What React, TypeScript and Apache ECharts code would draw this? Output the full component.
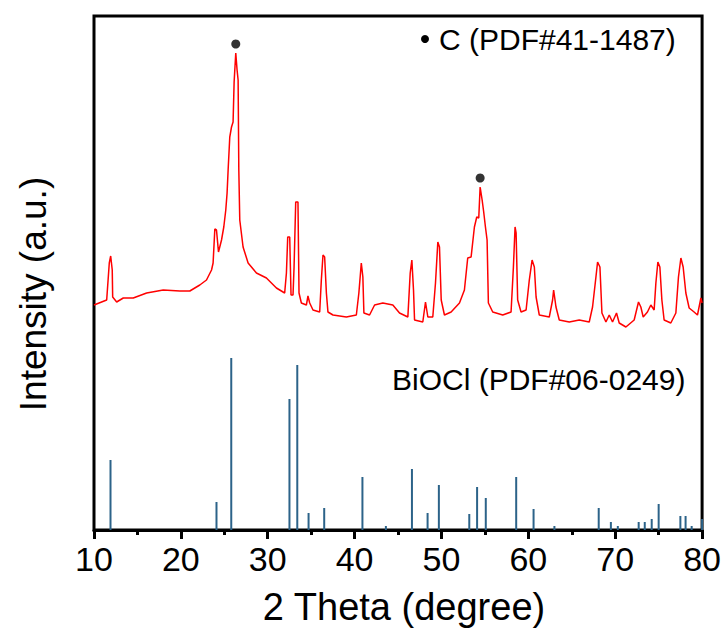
import React, { useEffect, useRef } from "react";
import * as echarts from "echarts";

// Measured XRD pattern (2θ in degrees, intensity in arbitrary units)
const xrdTheta: number[] = [
  10.0, 11.46, 11.76, 11.92, 12.1, 12.15, 12.61, 13.37, 14.52, 16.06, 17.97, 19.88, 21.03, 22.18, 22.95,
  23.53, 23.71, 23.91, 24.1, 24.33, 24.68, 24.94, 25.17, 25.32, 25.44, 25.63, 25.83, 26.01, 26.13, 26.32,
  26.47, 26.59, 26.67, 26.78, 27.16, 27.74, 28.7, 29.85, 31.0, 31.95, 32.15, 32.3, 32.53, 32.68, 32.91,
  33.03, 33.22, 33.48, 33.6, 33.87, 34.45, 34.63, 34.83, 35.21, 35.98, 36.17, 36.36, 36.55, 36.75, 36.93,
  37.51, 39.05, 40.2, 40.49, 40.77, 40.95, 41.07, 41.72, 42.3, 43.25, 44.4, 45.17, 46.13, 46.4, 46.59,
  46.78, 46.9, 47.85, 48.16, 48.43, 49.0, 49.31, 49.58, 49.77, 49.97, 50.34, 51.11, 52.07, 52.64, 53.02,
  53.41, 53.79, 54.06, 54.29, 54.45, 54.68, 54.86, 55.06, 55.25, 55.4, 55.9, 57.05, 58.01, 58.28, 58.47,
  58.59, 58.77, 59.16, 59.74, 60.11, 60.43, 60.69, 60.89, 61.26, 62.41, 62.79, 62.91, 63.18, 63.56, 64.71,
  65.86, 67.01, 67.39, 67.78, 67.97, 68.24, 68.47, 68.93, 69.31, 69.69, 70.15, 70.46, 71.23, 72.18, 72.68,
  72.95, 73.22, 73.71, 74.1, 74.48, 74.68, 74.91, 75.14, 75.37, 75.63, 76.4, 76.98, 77.28, 77.56, 77.82,
  78.13, 78.51, 79.08, 79.47, 79.86, 80.0,
];
const xrdIntensity: number[] = [
  225, 230, 267, 274, 260, 233, 228, 232, 232, 237, 240, 239, 239, 245, 250,
  260, 267, 301, 300, 278, 290, 303, 320, 337, 360, 393, 403, 408, 448, 477,
  460, 450, 360, 310, 283, 267, 257, 252, 242, 237, 257, 293, 293, 235, 235,
  263, 328, 328, 237, 227, 225, 234, 227, 220, 218, 250, 275, 273, 237, 218,
  215, 213, 215, 237, 267, 253, 217, 215, 225, 227, 225, 217, 213, 257, 270,
  240, 210, 208, 228, 213, 213, 247, 288, 283, 230, 215, 218, 227, 240, 272,
  273, 303, 313, 312, 343, 330, 318, 303, 290, 227, 218, 215, 218, 263, 303,
  297, 230, 218, 220, 250, 270, 263, 233, 215, 213, 230, 240, 223, 210, 208,
  210, 208, 223, 253, 268, 263, 217, 208, 215, 208, 217, 207, 203, 210, 228,
  223, 213, 218, 225, 220, 247, 268, 263, 230, 210, 207, 217, 253, 272, 263,
  237, 222, 218, 215, 232, 227,
];

// BiOCl standard card PDF#06-0249 (stick pattern)
const refTheta: number[] = [
  11.9, 24.1, 25.8, 32.5, 33.4, 34.7, 36.5, 40.9, 43.6, 46.6, 48.4, 49.7, 53.2, 54.1, 55.1,
  58.6, 60.6, 63.0, 68.1, 69.5, 70.3, 72.7, 73.4, 74.2, 75.0, 77.5, 78.1, 78.8, 80.0,
];
const refIntensity: number[] = [
  70, 28, 172, 131, 165, 17, 22, 53, 4, 61, 17, 45, 16, 43, 32,
  53, 21, 4, 22, 8, 4, 8, 8, 11, 26, 14, 14, 4, 11,
];

// Carbon (PDF#41-1487) peak markers
const carbonTheta: number[] = [26.32, 54.45];
const carbonIntensity: number[] = [486, 352];

const xTicks: number[] = [10, 20, 30, 40, 50, 60, 70, 80];

const FONT = "'Liberation Sans', Arial, sans-serif";

export default function App() {
  const ref = useRef<HTMLDivElement>(null);

  useEffect(() => {
    if (!ref.current) return;
    const chart = echarts.init(ref.current, null, { renderer: "svg" });
    const curve = xrdTheta.map((t, i) => [t, xrdIntensity[i]]);
    const sticks = refTheta.map((t, i) => [t, refIntensity[i]]);
    const dots = carbonTheta.map((t, i) => [t, carbonIntensity[i]]);

    chart.setOption({
      animation: false,
      backgroundColor: "#ffffff",
      grid: {
        left: 94,
        right: 21,
        top: 16,
        bottom: 98,
        show: true,
        borderColor: "#000",
        borderWidth: 3,
        backgroundColor: "transparent",
      },
      xAxis: {
        type: "value",
        min: 10,
        max: 80,
        interval: 10,
        axisLine: { show: true, onZero: false, lineStyle: { color: "#000", width: 3 } },
        axisTick: { show: true, inside: false, length: 9, lineStyle: { color: "#000", width: 3 } },
        minorTick: { show: true, splitNumber: 2, length: 5, lineStyle: { color: "#000", width: 3 } },
        axisLabel: {
          color: "#000",
          fontSize: 34,
          fontFamily: FONT,
          margin: 12,
          formatter: (v: number) => (xTicks.includes(v) ? String(v) : ""),
        },
        splitLine: { show: false },
      },
      yAxis: {
        type: "value",
        min: 0,
        max: 514,
        show: true,
        axisLine: { show: false },
        axisTick: { show: false },
        axisLabel: { show: false },
        splitLine: { show: false },
      },
      series: [
        {
          type: "custom",
          name: "BiOCl",
          data: sticks,
          encode: { x: 0, y: 1 },
          clip: true,
          renderItem: (params: any, api: any) => {
            const top = api.coord([api.value(0), api.value(1)]);
            const bot = api.coord([api.value(0), 0]);
            return {
              type: "line",
              shape: { x1: top[0], y1: top[1], x2: bot[0], y2: bot[1] },
              style: { stroke: "#2c6389", lineWidth: 2 },
            };
          },
          z: 2,
        },
        {
          type: "line",
          name: "XRD",
          data: curve,
          showSymbol: false,
          symbol: "none",
          lineStyle: { color: "#ff0000", width: 1.5 },
          z: 3,
        },
        {
          type: "scatter",
          name: "C",
          data: dots,
          symbol: "circle",
          symbolSize: 9,
          itemStyle: { color: "#000" },
          z: 4,
        },
      ],
      graphic: [
        {
          type: "circle",
          shape: { cx: 425, cy: 39, r: 4 },
          style: { fill: "#000" },
        },
        {
          type: "text",
          x: 439,
          y: 39,
          style: {
            text: "C (PDF#41-1487)",
            fontSize: 30,
            fontFamily: FONT,
            fill: "#000",
            textAlign: "left",
            textVerticalAlign: "middle",
          },
        },
        {
          type: "text",
          x: 392,
          y: 379,
          style: {
            text: "BiOCl (PDF#06-0249)",
            fontSize: 30,
            fontFamily: FONT,
            fill: "#000",
            textAlign: "left",
            textVerticalAlign: "middle",
          },
        },
        {
          type: "text",
          x: 404,
          y: 607,
          style: {
            text: "2 Theta (degree)",
            fontSize: 38,
            fontFamily: FONT,
            fill: "#000",
            textAlign: "center",
            textVerticalAlign: "middle",
          },
        },
        {
          type: "text",
          x: 33,
          y: 294,
          rotation: Math.PI / 2,
          style: {
            text: "Intensity (a.u.)",
            fontSize: 37,
            fontFamily: FONT,
            fill: "#000",
            textAlign: "center",
            textVerticalAlign: "middle",
          },
        },
      ],
    });

    return () => chart.dispose();
  }, []);

  return (
    <div
      ref={ref}
      style={{ position: "fixed", left: 0, top: 0, width: 724, height: 628, background: "#fff" }}
    />
  );
}
